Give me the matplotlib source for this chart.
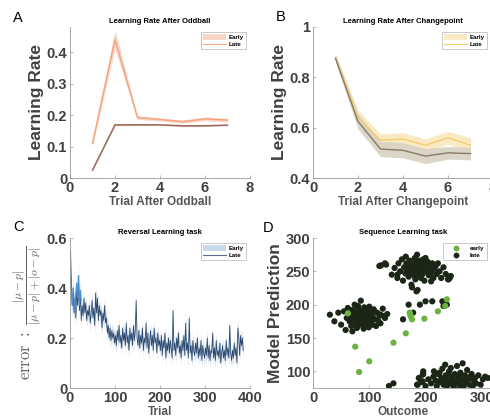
import numpy as np
import matplotlib
matplotlib.use('Agg')
import matplotlib.pyplot as plt
from matplotlib.patches import Patch
from matplotlib.lines import Line2D

plt.rcParams['font.family'] = ['Liberation Sans', 'DejaVu Sans']
plt.rcParams['mathtext.fontset'] = 'cm'

# ---------------- data ----------------
# A: learning rate after oddball
trial_a = [1, 2, 3, 4, 5, 6, 7]
odd_early = [0.110, 0.440, 0.192, 0.186, 0.179, 0.188, 0.184]
odd_early_sem = [0.008, 0.030, 0.006, 0.005, 0.005, 0.006, 0.006]
odd_late = [0.025, 0.169, 0.169, 0.169, 0.166, 0.166, 0.168]
odd_late_sem = [0.002, 0.003, 0.002, 0.002, 0.003, 0.002, 0.002]

# B: learning rate after changepoint
trial_b = [1, 2, 3, 4, 5, 6, 7]
cp_early = [0.880, 0.640, 0.550, 0.555, 0.530, 0.560, 0.530]
cp_early_sem = [0.015, 0.030, 0.025, 0.025, 0.025, 0.025, 0.030]
cp_late = [0.875, 0.625, 0.515, 0.510, 0.487, 0.500, 0.497]
cp_late_sem = [0.015, 0.030, 0.030, 0.030, 0.030, 0.025, 0.025]

# C: reversal learning error (every second trial)
rev_late = [
    0.55, 0.42, 0.33, 0.38, 0.30, 0.36, 0.28, 0.40, 0.33, 0.43,
    0.31, 0.38, 0.27, 0.33, 0.29, 0.36, 0.30, 0.34, 0.27, 0.31,
    0.29, 0.33, 0.26, 0.30, 0.35, 0.28, 0.32, 0.25, 0.38, 0.30,
    0.36, 0.27, 0.33, 0.29, 0.31, 0.24, 0.30, 0.27, 0.33, 0.26,
    0.28, 0.22, 0.25, 0.20, 0.24, 0.19, 0.23, 0.20, 0.22, 0.18,
    0.21, 0.17, 0.23, 0.19, 0.25, 0.18, 0.21, 0.16, 0.24, 0.19,
    0.22, 0.17, 0.26, 0.18, 0.21, 0.15, 0.24, 0.19, 0.22, 0.17,
    0.25, 0.19, 0.23, 0.35, 0.20, 0.17, 0.23, 0.16, 0.21, 0.18,
    0.24, 0.15, 0.20, 0.18, 0.26, 0.16, 0.22, 0.14, 0.19, 0.23,
    0.17, 0.21, 0.15, 0.24, 0.18, 0.20, 0.14, 0.22, 0.17, 0.19,
    0.15, 0.21, 0.13, 0.19, 0.16, 0.22, 0.12, 0.18, 0.15, 0.20,
    0.14, 0.19, 0.16, 0.12, 0.31, 0.15, 0.18, 0.13, 0.20, 0.16,
    0.22, 0.14, 0.17, 0.12, 0.19, 0.15, 0.21, 0.13, 0.26, 0.15,
    0.18, 0.12, 0.28, 0.14, 0.17, 0.11, 0.19, 0.15, 0.13, 0.18,
    0.14, 0.20, 0.12, 0.16, 0.13, 0.19, 0.11, 0.17, 0.14, 0.12,
    0.16, 0.13, 0.20, 0.12, 0.17, 0.11, 0.15, 0.14, 0.22, 0.12,
    0.16, 0.11, 0.19, 0.13, 0.15, 0.12, 0.18, 0.10, 0.14, 0.17,
    0.12, 0.15, 0.11, 0.19, 0.13, 0.16, 0.12, 0.25, 0.14, 0.11,
    0.15, 0.12, 0.18, 0.13, 0.16, 0.10, 0.24, 0.20, 0.13, 0.21,
    0.17, 0.20, 0.15,
]
rev_late_sem = 0.03
rev_early = [0.45, 0.38, 0.33, 0.40, 0.35, 0.30, 0.38, 0.42, 0.36, 0.45, 0.33, 0.39, 0.35]
rev_early_sem = 0.04

# D: sequence learning (outcome, prediction)
seq_late = [
    (30, 185), (38, 175), (45, 188), (50, 170), (55, 190), (58, 162), (60, 180), (62, 195), (65, 175), (66, 186),
    (68, 168), (70, 192), (71, 178), (72, 184), (74, 200), (75, 172), (76, 188), (78, 165), (79, 181), (80, 195),
    (81, 176), (82, 186), (83, 170), (84, 183), (85, 206), (86, 178), (87, 190), (88, 174), (89, 185), (90, 168),
    (91, 196), (92, 180), (93, 187), (94, 172), (95, 182), (96, 192), (97, 176), (98, 185), (99, 166), (100, 180),
    (101, 190), (102, 175), (104, 186), (105, 170), (106, 182), (108, 193), (110, 178), (112, 168), (114, 188), (116, 176),
    (118, 184), (120, 172), (124, 194), (128, 180), (132, 186), (70, 160), (80, 198), (90, 164), (100, 197), (64, 182),
    (128, 262), (130, 260), (140, 245), (145, 255), (150, 240), (152, 262), (155, 250), (158, 268), (160, 236), (162, 256),
    (164, 247), (166, 262), (168, 252), (170, 242), (171, 258), (172, 266), (174, 248), (175, 230), (176, 256), (178, 262),
    (179, 244), (180, 252), (181, 270), (182, 238), (183, 258), (184, 248), (185, 262), (186, 222), (187, 254), (188, 244),
    (189, 266), (190, 250), (191, 258), (192, 240), (193, 262), (194, 252), (195, 246), (196, 268), (197, 256), (198, 236),
    (200, 260), (202, 250), (204, 264), (206, 244), (208, 256), (210, 248), (212, 262), (214, 240), (216, 254), (218, 258),
    (220, 246), (222, 262), (225, 250), (228, 240), (232, 256), (236, 246), (240, 238), (243, 240), (176, 226), (184, 220),
    (165, 272), (185, 275), (200, 270), (150, 245), (210, 235),
    (186, 80), (188, 90), (192, 84), (196, 96), (200, 78), (205, 88), (210, 82), (214, 92), (218, 86), (220, 78),
    (222, 96), (225, 84), (228, 90), (230, 104), (232, 80), (234, 88), (236, 94), (238, 78), (240, 86), (242, 100),
    (244, 82), (246, 92), (248, 88), (250, 76), (252, 96), (254, 84), (256, 108), (258, 90), (260, 80), (262, 98),
    (264, 86), (266, 112), (268, 78), (270, 94), (272, 84), (274, 102), (276, 88), (278, 80), (280, 92), (282, 96),
    (284, 78), (286, 86), (288, 90), (290, 82), (294, 94), (298, 80), (302, 88), (306, 92), (311, 90), (215, 100),
    (225, 98), (245, 105), (255, 72), (265, 76), (235, 110), (250, 80), (240, 95), (270, 88), (260, 92), (230, 85),
    (135, 78), (143, 82), (160, 178), (170, 200), (178, 188), (190, 200), (200, 205), (212, 205), (230, 205), (195, 95),
    (196, 100), (195, 85), (185, 80), (118, 258), (121, 259), (245, 243), (241, 238), (232, 198), (238, 200), (120, 185),
    (125, 183),
]
seq_early = [
    (62, 187), (75, 137), (82, 99), (100, 115), (143, 143), (165, 157), (172, 188),
    (174, 182), (176, 178), (198, 179), (222, 190), (235, 198), (238, 208), (173, 185),
]

# ---------------- styling ----------------
TICK_COLOR = '#404040'
SPINE_COLOR = '#9a9a9a'


def style_axis(ax):
    for side in ['top', 'right']:
        ax.spines[side].set_visible(False)
    for side in ['left', 'bottom']:
        ax.spines[side].set_color(SPINE_COLOR)
        ax.spines[side].set_linewidth(0.6)
    ax.tick_params(direction='in', length=2.5, width=0.5, color=SPINE_COLOR,
                   labelsize=10.5, labelcolor=TICK_COLOR, pad=2)
    for lab in ax.get_xticklabels() + ax.get_yticklabels():
        lab.set_fontweight('bold')


def add_legend(ax, handles, labels, anchor):
    leg = ax.legend(handles, labels, loc='upper right', bbox_to_anchor=anchor,
                    prop={'size': 4.5, 'weight': 'bold'}, frameon=True, fancybox=False,
                    handlelength=3.6, handleheight=0.9, handletextpad=0.4, borderpad=0.35,
                    labelspacing=0.2, borderaxespad=0)
    leg.get_frame().set_edgecolor('#b0b0b0')
    leg.get_frame().set_linewidth(0.6)
    return leg


def ylab(ax, text):
    ax.set_ylabel(text, fontsize=12.5, fontweight='bold', color=TICK_COLOR, labelpad=2)


def xlab(ax, text):
    ax.set_xlabel(text, fontsize=8.5, fontweight='bold', color='#555555', labelpad=1)


fig = plt.figure(figsize=(4.9, 4.19), dpi=100)
W, H = 490.0, 419.0
axA = fig.add_axes([70 / W, 1 - 178 / H, 180 / W, 151 / H])
axB = fig.add_axes([313 / W, 1 - 178 / H, 180 / W, 151 / H])
axC = fig.add_axes([70 / W, 1 - 388 / H, 180 / W, 150 / H])
axD = fig.add_axes([313 / W, 1 - 388 / H, 180 / W, 150 / H])

# ---- A ----
ea, eaf = '#f4a582', '#f9d5c6'
la, laf = '#9c6b5c', '#d8c0b8'
x = np.array(trial_a)
axA.fill_between(x, np.array(odd_early) - odd_early_sem, np.array(odd_early) + odd_early_sem,
                 color=eaf, lw=0, alpha=0.9)
axA.fill_between(x, np.array(odd_late) - odd_late_sem, np.array(odd_late) + odd_late_sem,
                 color=laf, lw=0, alpha=0.9)
axA.plot(x, odd_early, color=ea, lw=1.1)
axA.plot(x, odd_late, color=la, lw=1.1)
axA.set_xlim(0, 8)
axA.set_ylim(0, 0.48)
axA.set_xticks([0, 2, 4, 6, 8])
axA.set_yticks([0, 0.1, 0.2, 0.3, 0.4])
axA.set_yticklabels(['0', '0.1', '0.2', '0.3', '0.4'])
axA.set_title('Learning Rate After Oddball', fontsize=5.5, fontweight='bold', pad=3)
ylab(axA, 'Learning Rate')
xlab(axA, 'Trial After Oddball')
style_axis(axA)
add_legend(axA, [Patch(facecolor=eaf, edgecolor='none'), Line2D([], [], color=ea, lw=0.8)],
           ['Early', 'Late'], (0.975, 0.965))

# ---- B ----
eb, ebf = '#f2cc6e', '#faeac4'
lb, lbf = '#8a7a66', '#d9d2c2'
x = np.array(trial_b)
axB.fill_between(x, np.array(cp_early) - cp_early_sem, np.array(cp_early) + cp_early_sem,
                 color=ebf, lw=0)
axB.fill_between(x, np.array(cp_late) - cp_late_sem, np.array(cp_late) + cp_late_sem,
                 color=lbf, lw=0, alpha=0.9)
axB.plot(x, cp_early, color=eb, lw=1.0)
axB.plot(x, cp_late, color=lb, lw=1.0)
axB.set_xlim(0, 8)
axB.set_ylim(0.4, 1.0)
axB.set_xticks([0, 2, 4, 6, 8])
axB.set_yticks([0.4, 0.6, 0.8, 1.0])
axB.set_yticklabels(['0.4', '0.6', '0.8', '1'])
axB.set_title('Learning Rate After Changepoint', fontsize=5.5, fontweight='bold', pad=3)
ylab(axB, 'Learning Rate')
xlab(axB, 'Trial After Changepoint')
style_axis(axB)
add_legend(axB, [Patch(facecolor=ebf, edgecolor='none'), Line2D([], [], color=eb, lw=0.8)],
           ['Early', 'Late'], (0.965, 0.965))

# ---- C ----
ec, ecf = '#4a8fd6', '#c9d8ea'
lc, lcf = '#2b4a72', '#c5d2e2'
xl = np.arange(len(rev_late)) * 2 + 1
xe = np.arange(len(rev_early)) * 2 + 1
yl = np.array(rev_late)
ye = np.array(rev_early)
axC.fill_between(xl, yl - rev_late_sem, yl + rev_late_sem, color=lcf, lw=0, alpha=0.8)
axC.fill_between(xe, ye - rev_early_sem, ye + rev_early_sem, color=ecf, lw=0, alpha=0.7)
axC.plot(xl, yl, color=lc, lw=0.6)
axC.plot(xe, ye, color=ec, lw=0.8)
axC.set_xlim(0, 400)
axC.set_ylim(0, 0.6)
axC.set_xticks([0, 100, 200, 300, 400])
axC.set_yticks([0, 0.2, 0.4, 0.6])
axC.set_yticklabels(['0', '0.2', '0.4', '0.6'])
axC.set_title('Reversal Learning task', fontsize=5.5, fontweight='bold', pad=3)
axC.set_ylabel(r'$\mathrm{error}\ :\ \frac{|\mu-p|}{|\mu-p|+|o-p|}$', fontsize=12,
               color='#606060', labelpad=1)
xlab(axC, 'Trial')
style_axis(axC)
add_legend(axC, [Patch(facecolor=ecf, edgecolor='none'), Line2D([], [], color='#5a6f8c', lw=0.8)],
           ['Early', 'Late'], (0.975, 0.965))

# ---- D ----
dl = np.array(seq_late)
de = np.array(seq_early)
axD.scatter(dl[:, 0], dl[:, 1], s=20, color='#1b2616', edgecolors='none', zorder=2)
axD.scatter(de[:, 0], de[:, 1], s=20, color='#6cb33f', edgecolors='none', zorder=3)
axD.set_xlim(0, 320)
axD.set_ylim(75, 300)
axD.set_xticks([0, 100, 200, 300])
axD.set_yticks([100, 150, 200, 250, 300])
axD.set_title('Sequence Learning task', fontsize=5.5, fontweight='bold', pad=3)
ylab(axD, 'Model Prediction')
xlab(axD, 'Outcome')
style_axis(axD)
legD = add_legend(axD, [Line2D([], [], ls='none', marker='o', ms=3.2, color='#6cb33f'),
                        Line2D([], [], ls='none', marker='o', ms=3.2, color='#1b2616')],
                  ['early', 'late'], (0.965, 0.965))
legD.set_zorder(5)

# panel letters
for letter, (px, py) in zip('ABCD', [(18, 18), (281, 17), (18, 227), (268, 228)]):
    fig.text(px / W, 1 - py / H, letter, fontsize=10.5, ha='center', va='center')

fig.savefig('out.png', dpi=100)
